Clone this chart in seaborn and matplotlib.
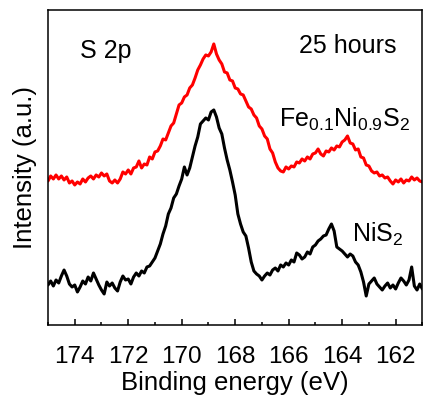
import numpy as np
import matplotlib
matplotlib.use('Agg')
import matplotlib.pyplot as plt
import matplotlib.ticker as mticker
import seaborn as sns

# ── DATA (arbitrary intensity units) ───────────────────────────────────────
red_counts = [
    144, 149, 146, 150, 146, 149, 145, 148, 142, 144,
    140, 143, 141, 146, 143, 147, 149, 146, 150, 148,
    152, 149, 151, 144, 142, 145, 142, 146, 153, 151,
    155, 151, 157, 158, 164, 157, 161, 160, 168, 166,
    173, 174, 179, 186, 185, 192, 199, 202, 211, 220,
    222, 228, 230, 237, 240, 247, 255, 260, 266, 270,
    269, 273, 281, 271, 265, 261, 253, 252, 245, 244,
    237, 236, 231, 230, 224, 218, 216, 210, 207, 199,
    196, 189, 186, 176, 172, 163, 157, 154, 153, 158,
    156, 159, 158, 163, 162, 166, 164, 168, 166, 171,
    172, 176, 171, 169, 174, 173, 177, 175, 179, 178,
    183, 185, 189, 182, 181, 175, 176, 168, 167, 160,
    159, 154, 152, 153, 149, 150, 147, 148, 144, 141,
    145, 143, 146, 142, 145, 144, 148, 145, 147, 144,
    143]

black_counts = [
    40, 44, 39, 45, 42, 49, 55, 49, 41, 38,
    40, 33, 38, 44, 41, 48, 44, 52, 46, 40,
    35, 31, 43, 39, 42, 37, 34, 43, 49, 45,
    46, 41, 48, 52, 49, 54, 52, 58, 59, 63,
    67, 74, 81, 91, 99, 111, 117, 127, 131, 139,
    146, 158, 150, 157, 168, 179, 188, 201, 204, 207,
    205, 213, 215, 208, 197, 191, 177, 165, 155, 143,
    130, 111, 101, 93, 89, 77, 63, 54, 51, 49,
    45, 49, 52, 50, 55, 57, 54, 60, 58, 62,
    60, 65, 63, 72, 70, 66, 68, 73, 71, 78,
    80, 84, 86, 89, 90, 96, 101, 94, 78, 76,
    74, 71, 68, 71, 69, 63, 60, 53, 43, 29,
    41, 44, 47, 41, 38, 35, 39, 42, 37, 40,
    36, 42, 47, 44, 40, 45, 58, 39, 35, 41,
    36]

# spectra recorded on a 0.1 eV grid from 175 to 161 eV
energy = np.linspace(175.0, 161.0, len(red_counts))

x_ticks = [174, 172, 170, 168, 166, 164, 162]

# ── STYLE ──────────────────────────────────────────────────────────────────
sns.set_style('ticks')
plt.rcParams.update({
    'font.family':      ['Liberation Sans', 'DejaVu Sans'],
    'mathtext.fontset': 'custom',
    'mathtext.rm':      'Liberation Sans',
    'mathtext.it':      'Liberation Sans',
    'text.color':       'black',
    'axes.labelcolor':  'black',
    'xtick.color':      'black',
    'ytick.color':      'black',
    'axes.edgecolor':   'black',
})

fig = plt.figure(figsize=(4.23, 3.98), dpi=100)
ax = fig.add_axes([0.1135, 0.1834, 0.885, 0.7916])

sns.lineplot(x=energy, y=red_counts, color='#ff0000', linewidth=2.2, ax=ax)
sns.lineplot(x=energy, y=black_counts, color='#000000', linewidth=2.2, ax=ax)

ax.set_xlim(175, 161)
ax.set_ylim(0, 315)
ax.set_yticks([])
ax.set_xticks(x_ticks)
ax.xaxis.set_minor_locator(mticker.MultipleLocator(1))
ax.tick_params(axis='x', which='major', direction='in', length=4, width=1.1,
               pad=15, labelsize=17.5, top=False)
ax.tick_params(axis='x', which='minor', direction='in', length=2.5, width=1.1,
               top=False)

for side in ['left', 'right', 'top', 'bottom']:
    ax.spines[side].set_visible(True)
    ax.spines[side].set_linewidth(1.1)

ax.set_xlabel('Binding energy (eV)', fontsize=18.5, labelpad=2)
ax.set_ylabel('Intensity (a.u.)', fontsize=18.5, labelpad=8)

ax.text(173.8, 267, 'S 2p', fontsize=18, va='baseline', ha='left')
ax.text(165.6, 272, '25 hours', fontsize=18, va='baseline', ha='left')
ax.text(166.36, 198, r'Fe$_{0.1}$Ni$_{0.9}$S$_2$', fontsize=18,
        va='baseline', ha='left')
ax.text(163.64, 83, r'NiS$_2$', fontsize=18, va='baseline', ha='left')

plt.savefig('out.png', dpi=100)
plt.close()
